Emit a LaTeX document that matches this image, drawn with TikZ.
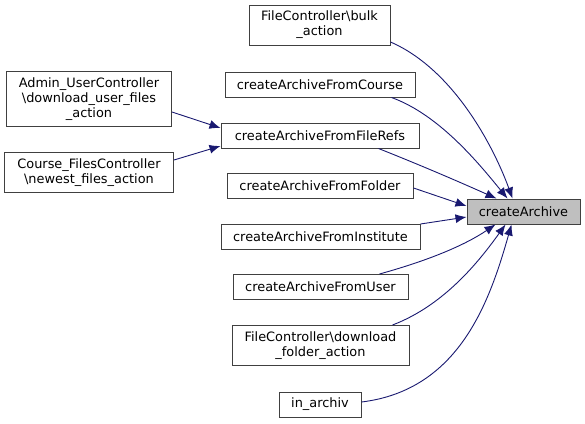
\documentclass[tikz,border=0pt]{standalone}
\usepackage{fontspec}
\setmainfont{DejaVu Sans}
\usetikzlibrary{arrows.meta,calc}
\definecolor{edgeblue}{HTML}{191970}
\definecolor{boxline}{HTML}{404040}
\definecolor{rootfill}{HTML}{BFBFBF}
\begin{document}
\begin{tikzpicture}[x=1pt,y=-1pt,
  box/.style={draw=boxline,line width=1pt,fill=white,inner sep=0pt,align=center,
    font=\fontsize{12.9}{15}\selectfont},
  root/.style={box,fill=rootfill},
  edge/.style={draw=edgeblue,line width=0.9pt,-{Latex[length=11pt,width=9pt]}}]
\useasboundingbox (0,0) rectangle (585,423);
\node[root,minimum width=113pt,minimum height=25pt] (ca) at (523.5,211.5) {createArchive};
\node[box,minimum width=141pt,minimum height=40pt] (bulk) at (319.5,25) {FileController\textbackslash bulk\\\_action};
\node[box,minimum width=190pt,minimum height=25pt] (course) at (320,84.5) {createArchiveFromCourse};
\node[box,minimum width=198pt,minimum height=25pt] (refs) at (320,135.5) {createArchiveFromFileRefs};
\node[box,minimum width=186pt,minimum height=25pt] (folder) at (320,185.5) {createArchiveFromFolder};
\node[box,minimum width=199pt,minimum height=25pt] (inst) at (320.5,236.5) {createArchiveFromInstitute};
\node[box,minimum width=175pt,minimum height=25pt] (user) at (320.5,287) {createArchiveFromUser};
\node[box,minimum width=177pt,minimum height=40pt] (dlf) at (320.5,345.5) {FileController\textbackslash download\\\_folder\_action};
\node[box,minimum width=82pt,minimum height=25pt] (arch) at (320,404.5) {in\_archiv};
\node[box,minimum width=165pt,minimum height=55pt] (admin) at (89,99) {Admin\_UserController\\\textbackslash download\_user\_files\\\_action};
\node[box,minimum width=169pt,minimum height=40pt] (cfc) at (89,172.5) {Course\_FilesController\\\textbackslash newest\_files\_action};
% edges into createArchive
\draw[edge] (bulk.east|-0,42) .. controls (455,70) and (495,150) .. ($(ca.north west)+(46,0)$);
\draw[edge] ($(course.south east)+(-24,0)$) .. controls (440,115) and (480,165) .. ($(ca.north west)+(41,0)$);
\draw[edge] ($(refs.south east)+(-41,0)$) .. controls (420,165) and (455,180) .. ($(ca.north west)+(30,0)$);
\draw[edge] (folder.east|-0,188) -- (ca.west|-0,206);
\draw[edge] (inst.east|-0,224) -- (ca.west|-0,217);
\draw[edge] ($(user.north east)+(-29,0)$) .. controls (430,260) and (465,245) .. ($(ca.south west)+(29,0)$);
\draw[edge] ($(dlf.north east)+(-17,0)$) .. controls (445,305) and (480,260) .. ($(ca.south west)+(39,0)$);
\draw[edge] (arch.east|-0,402) .. controls (460,390) and (490,300) .. ($(ca.south west)+(45,0)$);
\draw[edge] (admin.east|-0,112) -- (refs.west|-0,128);
\draw[edge] (cfc.east|-0,160) -- (refs.west|-0,146);
\end{tikzpicture}
\end{document}
